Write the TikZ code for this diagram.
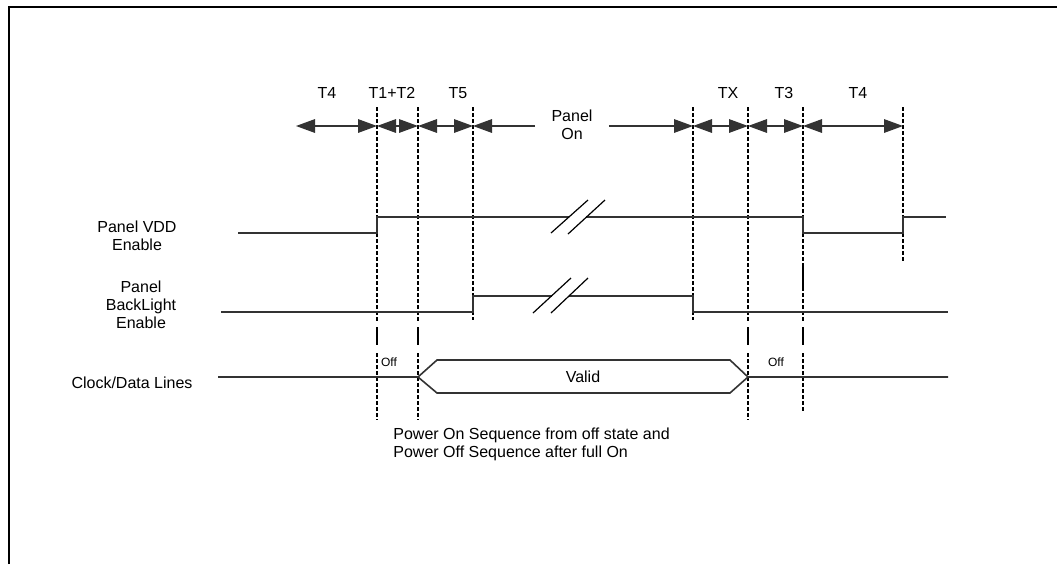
\documentclass[tikz,border=0pt]{standalone}
\usepackage{fontspec}
\setmainfont{Liberation Sans}
\usetikzlibrary{arrows.meta,positioning}
\definecolor{Ink}{HTML}{000000}
\definecolor{InkSoft}{HTML}{333333}
\tikzset{
  every picture/.append style={font=\fontsize{8}{9}\selectfont},
  frame/.style={line width=1.3pt, draw=Ink},
  sig/.style={line width=0.8pt, draw=InkSoft},
  brk/.style={line width=0.6pt, draw=Ink},
  tline/.style={line width=0.65pt, draw=Ink, dash pattern=on 2pt off 1pt},
  tsolid/.style={line width=0.65pt, draw=Ink},
  dim/.style={{Triangle[length=9.5pt,width=6.8pt]}-{Triangle[length=9.5pt,width=6.8pt]}, line width=0.6pt, draw=InkSoft},
  dimR/.style={-{Triangle[length=9.5pt,width=6.8pt]}, line width=0.6pt, draw=InkSoft},
  lbl/.style={align=center, inner sep=0pt},
  sml/.style={font=\fontsize{6}{7}\selectfont, inner sep=0pt},
}
\begin{document}
\begin{tikzpicture}[x=0.5pt,y=-0.5pt]
\useasboundingbox (0,0) rectangle (1057,564);

% ---------------- frame ----------------------------------------------------
\coordinate (fbl) at (9,564);
\coordinate (ftl) at (9,7);
\coordinate (ftr) at (1057,7);
\draw[frame] (fbl) -- (ftl) -- (ftr);

% ---------------- time markers ---------------------------------------------
\coordinate (a0) at (296,126);
\foreach \n/\x in {a/377,b/418,c/473,d/693,e/748,f/803,g/903}{
  \coordinate (t\n) at (\x,107);
  \coordinate (a\n) at (\x,126);}

\foreach \n in {ta,tb,te}{
  \draw[tline] (\n) -- ++(0,215);
  \draw[tsolid] (\n) ++(0,220) -- ++(0,18);
  \draw[tline] (\n) ++(0,246) -- ++(0,67);}
\foreach \n in {tc,td}{
  \draw[tline] (\n) -- ++(0,213);}
\draw[tline] (tf) -- ++(0,215);
\draw[tsolid] (tf) ++(0,160) -- ++(0,23);
\draw[tsolid] (tf) ++(0,220) -- ++(0,18);
\draw[tline] (tf) ++(0,246) -- ++(0,59);
\draw[tline] (tg) -- ++(0,155);

% ---------------- interval labels and arrows --------------------------------
\foreach \t/\x in {T4/327,T1+T2/392,T5/458,TX/728,T3/784,T4/858}{
  \node[lbl] (l\x) at (\x,93) {\t};}
\node[lbl, inner xsep=8pt] (pon) at (572,125) {Panel\\On};

\draw[dim] (a0) -- (aa);
\draw[dim] (aa) -- (ab);
\draw[dim] (ab) -- (ac);
\draw[dimR] (pon.west |- ac) -- (ac);
\draw[dimR] (pon.east |- ad) -- (ad);
\draw[dim] (ad) -- (ae);
\draw[dim] (ae) -- (af);
\draw[dim] (af) -- (ag);

% ---------------- signal names ----------------------------------------------
\node[lbl] (nvdd) at (137,236) {Panel VDD\\Enable};
\node[lbl] (nbl) at (141,305) {Panel\\BackLight\\Enable};
\node[lbl] (nclk) at (132,383) {Clock/Data Lines};

% ---------------- Panel VDD Enable ------------------------------------------
\draw[sig] (238,233) -- (377,233) -- (377,217) -- (569,217);
\draw[sig] (586,217) -- (803,217) -- (803,233) -- (903,233) -- (903,217) -- (946,217);
\draw[brk] (551,233) -- (588,200);
\draw[brk] (568,234) -- (605,200);

% ---------------- Panel BackLight Enable ------------------------------------
\draw[sig] (221,312) -- (473,312) -- (473,296) -- (552,296);
\draw[sig] (569,296) -- (693,296) -- (693,312) -- (948,312);
\draw[brk] (533,313) -- (571,278);
\draw[brk] (551,313) -- (588,278);

% ---------------- Clock/Data Lines ------------------------------------------
\draw[sig] (218,377) -- (418,377) -- (437,360) -- (730,360) -- (748,377) -- (948,377);
\draw[sig] (418,377) -- (437,393) -- (730,393) -- (748,377);
\node[lbl] (valid) at (583,377) {Valid};
\node[sml] (off1) at (389,362) {Off};
\node[sml] (off2) at (776,362) {Off};

% ---------------- caption ---------------------------------------------------
\node[align=left, anchor=north west, inner sep=0pt] (cap) at (393,427)
  {Power On Sequence from off state and\\Power Off Sequence after full On};

\end{tikzpicture}
\end{document}
